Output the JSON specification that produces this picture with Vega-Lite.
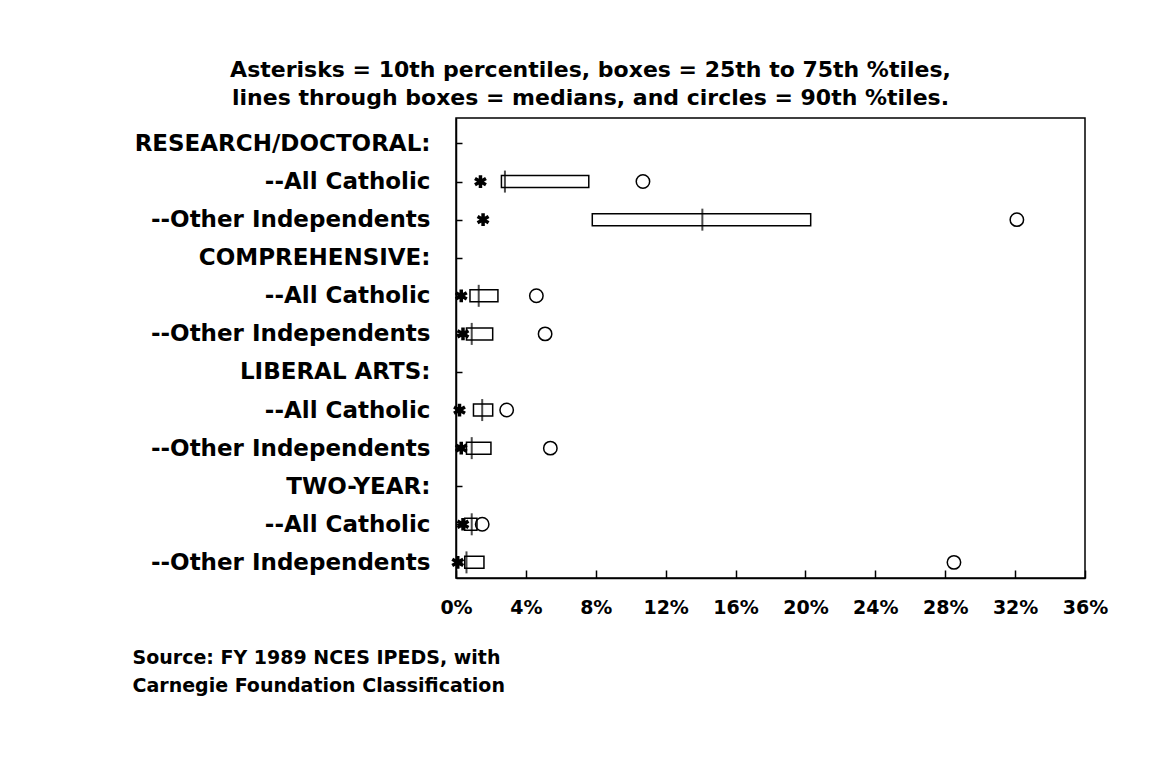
{
  "$schema": "https://vega.github.io/schema/vega-lite/v6.json",
  "autosize": "none",
  "width": 629,
  "height": 460,
  "padding": {"left": 456, "top": 118, "right": 83, "bottom": 188},
  "background": "white",
  "title": {
    "text": ["Asterisks = 10th percentiles, boxes = 25th to 75th %tiles,", "lines through boxes = medians, and circles = 90th %tiles."],
    "anchor": "middle",
    "frame": "group",
    "dx": -180,
    "offset": 8,
    "font": "DejaVu Sans",
    "fontSize": 22,
    "fontWeight": "bold",
    "lineHeight": 28,
    "color": "black"
  },
  "data": {
    "values": [
      {"g": "rd_ac", "p10": 1.4, "p25": 2.6, "med": 2.8, "p75": 7.6, "p90": 10.7},
      {"g": "rd_oi", "p10": 1.55, "p25": 7.8, "med": 14.1, "p75": 20.3, "p90": 32.1},
      {"g": "co_ac", "p10": 0.3, "p25": 0.8, "med": 1.3, "p75": 2.4, "p90": 4.6},
      {"g": "co_oi", "p10": 0.4, "p25": 0.6, "med": 0.9, "p75": 2.1, "p90": 5.1},
      {"g": "la_ac", "p10": 0.2, "p25": 1.0, "med": 1.5, "p75": 2.1, "p90": 2.9},
      {"g": "la_oi", "p10": 0.3, "p25": 0.6, "med": 0.9, "p75": 2.0, "p90": 5.4},
      {"g": "ty_ac", "p10": 0.4, "p25": 0.5, "med": 0.9, "p75": 1.2, "p90": 1.5},
      {"g": "ty_oi", "p10": 0.1, "p25": 0.5, "med": 0.6, "p75": 1.6, "p90": 28.5}
    ]
  },
  "encoding": {
    "y": {
      "field": "g",
      "type": "ordinal",
      "scale": {
        "type": "point",
        "domain": ["rd", "rd_ac", "rd_oi", "co", "co_ac", "co_oi", "la", "la_ac", "la_oi", "ty", "ty_ac", "ty_oi"],
        "padding": 0.54,
        "align": 0.62
      },
      "axis": {
        "title": null,
        "labelExpr": "['RESEARCH/DOCTORAL:','--All Catholic','--Other Independents','COMPREHENSIVE:','--All Catholic','--Other Independents','LIBERAL ARTS:','--All Catholic','--Other Independents','TWO-YEAR:','--All Catholic','--Other Independents'][indexof(['rd','rd_ac','rd_oi','co','co_ac','co_oi','la','la_ac','la_oi','ty','ty_ac','ty_oi'], datum.value)]",
        "tickSize": -6,
        "labelPadding": 32,
        "labelLimit": 0,
        "labelFont": "DejaVu Sans",
        "labelFontWeight": "bold",
        "labelFontSize": 23,
        "labelColor": "black",
        "domainColor": "black",
        "domainWidth": 1.5,
        "tickColor": "black",
        "tickWidth": 1.5,
        "grid": false
      }
    }
  },
  "layer": [
    {
      "mark": {"type": "bar", "height": 12, "fill": "white", "stroke": "black", "strokeWidth": 1.5},
      "encoding": {
        "x": {
          "field": "p25",
          "type": "quantitative",
          "scale": {"domain": [0, 36], "nice": false, "zero": true},
          "axis": {
            "values": [0, 4, 8, 12, 16, 20, 24, 28, 32, 36],
            "labelExpr": "datum.value + '%'",
            "tickSize": -8,
            "labelPadding": 28,
            "labelFont": "DejaVu Sans",
            "labelFontWeight": "bold",
            "labelFontSize": 19,
            "labelColor": "black",
            "labelFlush": false,
            "domainColor": "black",
            "domainWidth": 1.5,
            "tickColor": "black",
            "tickWidth": 1.5,
            "grid": false,
            "title": ["Source: FY 1989 NCES IPEDS, with", "Carnegie Foundation Classification"],
            "titleFont": "DejaVu Sans",
            "titleFontWeight": "bold",
            "titleFontSize": 19,
            "titleColor": "black",
            "titleAlign": "left",
            "titleAnchor": "start",
            "titleBaseline": "top",
            "titleX": -324,
            "titleY": 70,
            "titleLineHeight": 28
          }
        },
        "x2": {"field": "p75"}
      }
    },
    {
      "mark": {"type": "tick", "orient": "vertical", "size": 22, "thickness": 2, "color": "black"},
      "encoding": {"x": {"field": "med", "type": "quantitative"}}
    },
    {
      "mark": {"type": "point", "shape": "M0,-1L0,1M-0.87,-0.5L0.87,0.5M-0.87,0.5L0.87,-0.5", "size": 160, "filled": false, "stroke": "black", "strokeWidth": 3.5, "opacity": 1},
      "encoding": {"x": {"field": "p10", "type": "quantitative"}}
    },
    {
      "mark": {"type": "point", "shape": "circle", "size": 180, "filled": false, "stroke": "black", "strokeWidth": 1.5, "opacity": 1},
      "encoding": {"x": {"field": "p90", "type": "quantitative"}}
    }
  ],
  "config": {
    "view": {"stroke": "black", "strokeWidth": 1.5}
  }
}
